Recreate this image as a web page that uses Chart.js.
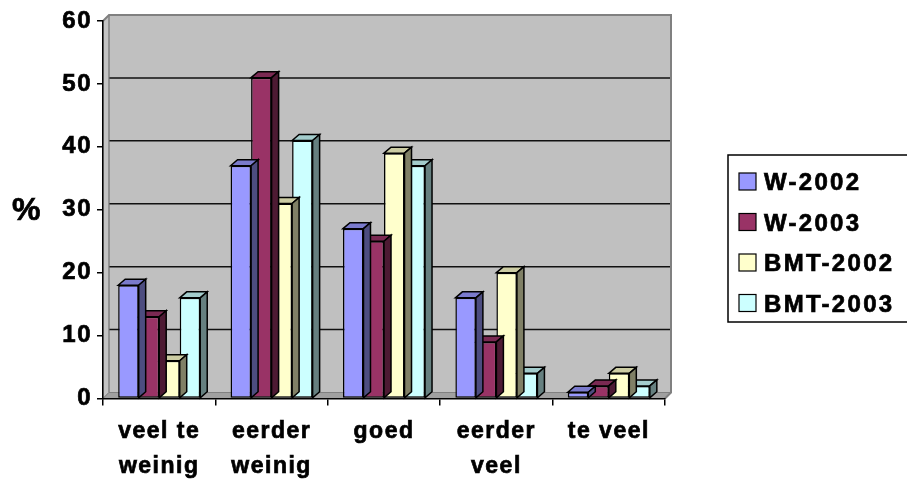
<!DOCTYPE html>
<html>
<head>
<meta charset="utf-8">
<script src="https://cdn.jsdelivr.net/npm/chart.js@4.4.0/dist/chart.umd.min.js"></script>
<style>
  html, body { margin: 0; padding: 0; background: #fff; overflow: hidden; }
  #wrap { width: 907px; height: 484px; }
</style>
</head>
<body>
<div id="wrap"><canvas id="c" width="907" height="484"></canvas></div>
<script>
// ---- data ----
const categories = [['veel te', 'weinig'], ['eerder', 'weinig'], 'goed', ['eerder', 'veel'], 'te veel'];
const seriesNames = ['W-2002', 'W-2003', 'BMT-2002', 'BMT-2003'];
const w2002   = [18, 37, 27, 16, 1];
const w2003   = [13, 51, 25, 9, 2];
const bmt2002 = [6, 31, 39, 20, 4];
const bmt2003 = [16, 41, 37, 4, 2];
const yTicks  = [0, 10, 20, 30, 40, 50, 60];
const seriesColors = ['#9999FF', '#993366', '#FFFFCC', '#CCFFFF'];

// ---- styling ----
const FONT = "'Liberation Sans', Arial, sans-serif";
const SPACING = '1.5px';
const TEXT_STROKE = 0.7;          // thickens the bold type slightly
const BAR_DX = 7, BAR_DY = 6;     // bar depth
const WALL_DX = 6, WALL_DY = 6;   // wall / floor depth

function shade(hex, f) {
  const n = parseInt(hex.slice(1), 16);
  const r = (n >> 16) & 255, g = (n >> 8) & 255, b = n & 255;
  return `rgb(${Math.round(r * f)},${Math.round(g * f)},${Math.round(b * f)})`;
}

function poly(ctx, pts, fill, stroke, lw) {
  ctx.beginPath();
  ctx.moveTo(pts[0][0], pts[0][1]);
  for (let i = 1; i < pts.length; i++) ctx.lineTo(pts[i][0], pts[i][1]);
  ctx.closePath();
  if (fill) { ctx.fillStyle = fill; ctx.fill(); }
  if (stroke) { ctx.strokeStyle = stroke; ctx.lineWidth = lw || 1; ctx.stroke(); }
}

function boldText(ctx, text, x, y) {
  ctx.fillText(text, x, y);
  ctx.strokeStyle = '#000';
  ctx.lineWidth = TEXT_STROKE;
  ctx.strokeText(text, x, y);
}

// walls, floor and gridlines behind the bars; depth faces on each bar
const depthPlugin = {
  id: 'depth',
  beforeLayout(chart) { chart.ctx.letterSpacing = SPACING; },
  beforeDraw(chart) {
    const ctx = chart.ctx;
    ctx.letterSpacing = SPACING;
    const { left, right, top, bottom } = chart.chartArea;
    const ys = chart.scales.y;
    ctx.save();
    ctx.lineJoin = 'miter';
    // back wall
    ctx.fillStyle = '#C0C0C0';
    ctx.fillRect(left + WALL_DX, top - WALL_DY, right - left, bottom - top);
    // left wall
    poly(ctx, [[left, bottom], [left + WALL_DX, bottom - WALL_DY], [left + WALL_DX, top - WALL_DY], [left, top]], '#C4C4C4', '#808080', 1);
    // floor
    poly(ctx, [[left, bottom], [right, bottom], [right + WALL_DX, bottom - WALL_DY], [left + WALL_DX, bottom - WALL_DY]], '#A0A0A0', '#808080', 1);
    // gridlines on the back wall
    ctx.strokeStyle = '#111';
    ctx.lineWidth = 1.5;
    yTicks.forEach(v => {
      if (v === 0 || v === 60) return;
      const py = ys.getPixelForValue(v) - WALL_DY;
      ctx.beginPath();
      ctx.moveTo(left + WALL_DX, py);
      ctx.lineTo(right + WALL_DX, py);
      ctx.stroke();
    });
    // wall outline
    ctx.strokeStyle = '#808080';
    ctx.lineWidth = 2;
    ctx.beginPath();
    ctx.moveTo(left, top);
    ctx.lineTo(left + WALL_DX, top - WALL_DY);
    ctx.lineTo(right + WALL_DX, top - WALL_DY);
    ctx.lineTo(right + WALL_DX, bottom - WALL_DY);
    ctx.lineTo(right, bottom);
    ctx.stroke();
    ctx.lineWidth = 1;
    ctx.beginPath();
    ctx.moveTo(left + WALL_DX, top - WALL_DY);
    ctx.lineTo(left + WALL_DX, bottom - WALL_DY);
    ctx.stroke();
    ctx.restore();
  },
  afterDatasetDraw(chart, args) {
    const ctx = chart.ctx;
    const color = seriesColors[args.index];
    ctx.save();
    ctx.lineJoin = 'miter';
    args.meta.data.forEach(el => {
      const { x, y, base, width } = el.getProps(['x', 'y', 'base', 'width'], true);
      const l = x - width / 2, r = x + width / 2;
      // top face
      poly(ctx, [[l, y], [l + BAR_DX, y - BAR_DY], [r + BAR_DX, y - BAR_DY], [r, y]], shade(color, 0.8), '#000', 1.5);
      // side face
      poly(ctx, [[r, y], [r + BAR_DX, y - BAR_DY], [r + BAR_DX, base - BAR_DY], [r, base]], shade(color, 0.5), '#000', 1.5);
    });
    ctx.restore();
  },
  afterDraw(chart) {
    const ctx = chart.ctx;
    ctx.save();
    ctx.letterSpacing = SPACING;
    ctx.textAlign = 'left';
    ctx.textBaseline = 'alphabetic';
    // axis symbol
    ctx.fillStyle = '#000';
    ctx.font = `bold 32px ${FONT}`;
    boldText(ctx, '%', 12, 220);
    // legend
    ctx.strokeStyle = '#000';
    ctx.lineWidth = 1.5;
    ctx.strokeRect(728, 155, 200, 167);
    ctx.font = `bold 24px ${FONT}`;
    ctx.letterSpacing = '2.3px';
    chart.data.datasets.forEach((ds, i) => {
      const cy = 181.5 + i * 40.5;
      ctx.fillStyle = ds.backgroundColor;
      ctx.fillRect(739, cy - 8.5, 17, 17);
      ctx.strokeStyle = '#000';
      ctx.lineWidth = 1.2;
      ctx.strokeRect(739, cy - 8.5, 17, 17);
      ctx.fillStyle = '#000';
      boldText(ctx, ds.label, 764, cy + 8.5);
    });
    ctx.restore();
  }
};

const seriesValues = [w2002, w2003, bmt2002, bmt2003];

Chart.defaults.font.family = FONT;
Chart.defaults.color = '#000';

new Chart(document.getElementById('c'), {
  type: 'bar',
  data: {
    labels: categories,
    datasets: seriesNames.map((name, i) => ({
      label: name,
      data: seriesValues[i],
      backgroundColor: seriesColors[i],
      borderColor: '#000',
      borderWidth: 1.5,
      borderSkipped: false,
      categoryPercentage: 0.73,
      barPercentage: 1.0
    }))
  },
  options: {
    responsive: false,
    animation: false,
    devicePixelRatio: 1,
    layout: { padding: { left: 0, right: 242, top: 21, bottom: 0 } },
    plugins: { legend: { display: false }, tooltip: { enabled: false } },
    scales: {
      x: {
        offset: true,
        grid: { offset: true, drawOnChartArea: false, drawTicks: true, tickLength: 7, color: '#000', lineWidth: 1.5 },
        border: { display: true, color: '#000', width: 1.5 },
        ticks: {
          autoSkip: false,
          maxRotation: 0,
          padding: 9,
          color: '#000',
          textStrokeColor: '#000',
          textStrokeWidth: TEXT_STROKE,
          font: { size: 23, weight: 'bold', lineHeight: 1.5 }
        },
        afterFit(s) { s.height = 85.5; }
      },
      y: {
        min: 0,
        max: 60,
        afterBuildTicks(s) { s.ticks = yTicks.map(v => ({ value: v })); },
        grid: { drawOnChartArea: false, drawTicks: true, tickLength: 6, color: '#000', lineWidth: 1.5 },
        border: { display: true, color: '#000', width: 1.5 },
        ticks: {
          padding: 5,
          color: '#000',
          textStrokeColor: '#000',
          textStrokeWidth: TEXT_STROKE,
          font: { size: 24, weight: 'bold' }
        },
        afterFit(s) { s.width = 103; }
      }
    }
  },
  plugins: [depthPlugin]
});
</script>
</body>
</html>
